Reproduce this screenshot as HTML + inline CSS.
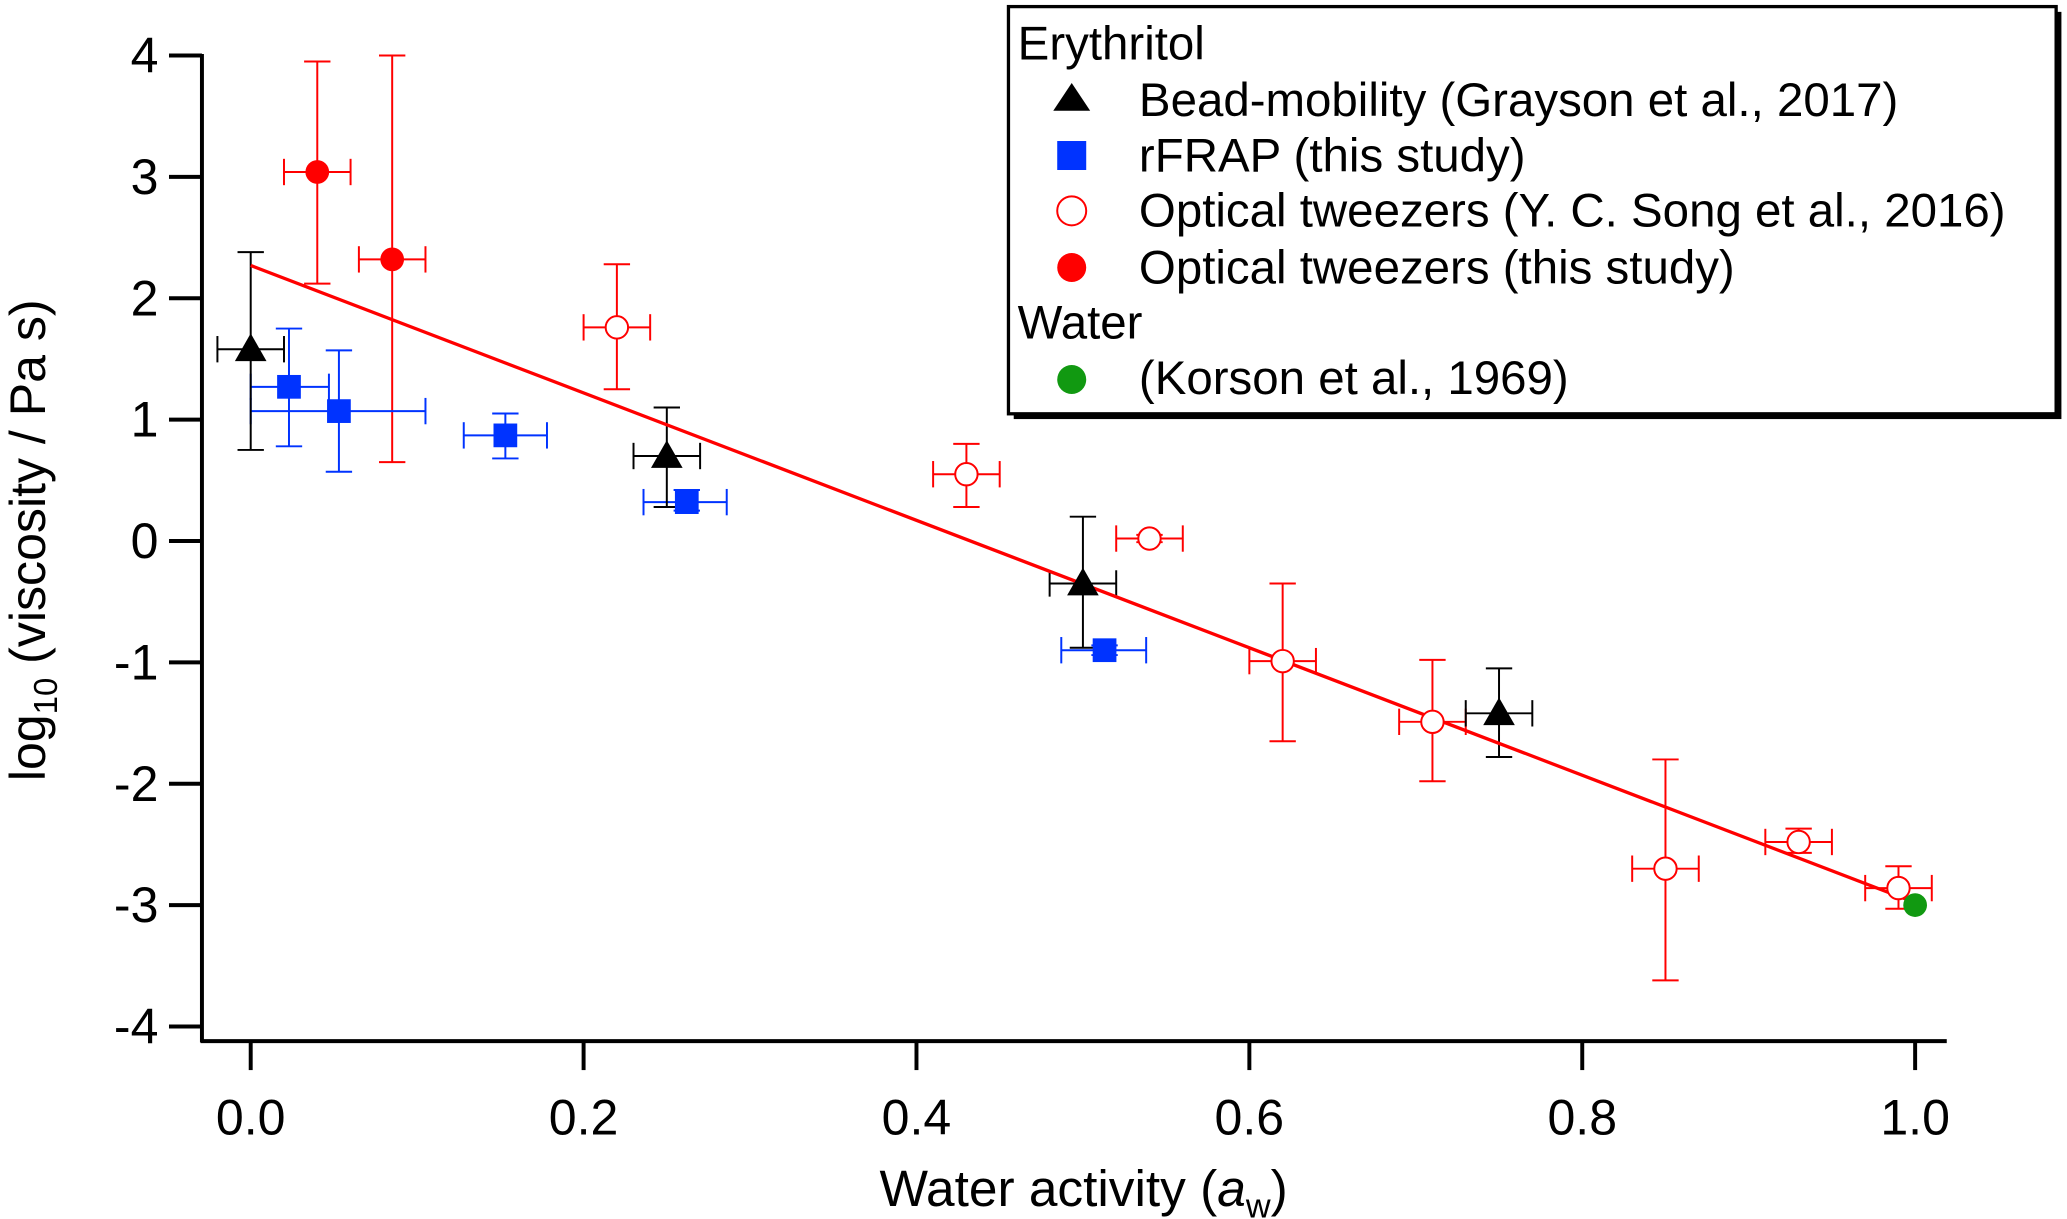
<!DOCTYPE html>
<html><head><meta charset="utf-8"><style>
html,body{margin:0;padding:0;background:#fff;}
svg{display:block;font-family:"Liberation Sans",Arial,sans-serif;}
</style></head><body>
<svg id="chart" width="2067" height="1219" viewBox="0 0 1568 925">
<g id="axes"></g>
<g id="marks"></g>
<text x="34" y="410" font-size="38" text-anchor="middle" transform="rotate(-90 34 410)">log<tspan font-size="25" dy="9">10</tspan><tspan dy="-9"> (viscosity / Pa s)</tspan></text>
<text x="822" y="915" font-size="39" text-anchor="middle">Water activity (<tspan font-style="italic">a</tspan><tspan font-size="26" dy="9">w</tspan><tspan dy="-9">)</tspan></text>
<g>
<rect x="769" y="9" width="795" height="309" fill="#000"/>
<rect x="765" y="5" width="795" height="309" fill="#fff" stroke="#000" stroke-width="2.5"/>
<g font-size="36">
<text x="772" y="45">Erythritol</text>
<polygon points="813,63 799,84 827,84" fill="#000"/>
<text x="864" y="88">Bead-mobility (Grayson et al., 2017)</text>
<rect x="802" y="107" width="22" height="22" fill="#0033ff"/>
<text x="864" y="130">rFRAP (this study)</text>
<circle cx="813" cy="160" r="11" fill="#fff" stroke="#f00" stroke-width="1.5"/>
<text x="864" y="172">Optical tweezers (Y. C. Song et al., 2016)</text>
<circle cx="813" cy="203" r="11" fill="#f00"/>
<text x="864" y="215">Optical tweezers (this study)</text>
<text x="772" y="257">Water</text>
<circle cx="813" cy="288" r="11" fill="#119911"/>
<text x="864" y="299">(Korson et al., 1969)</text>
</g></g>
</svg>
<script>
const xTicks=[0,0.2,0.4,0.6,0.8,1.0];
const xTickLabels=["0.0","0.2","0.4","0.6","0.8","1.0"];
const yTicks=[4,3,2,1,0,-1,-2,-3,-4];
const yTickLabels=["4","3","2","1","0","-1","-2","-3","-4"];
const beadX=[0,0.25,0.5,0.75];
const beadY=[1.58,0.7,-0.35,-1.42];
const beadYHi=[2.38,1.1,0.2,-1.05];
const beadYLo=[0.75,0.28,-0.88,-1.78];
const beadXLo=[-0.02,0.23,0.48,0.73];
const beadXHi=[0.02,0.27,0.52,0.77];
const frapX=[0.023,0.053,0.153,0.262,0.513];
const frapY=[1.27,1.07,0.87,0.32,-0.9];
const frapYHi=[1.75,1.57,1.05,0.42,-0.86];
const frapYLo=[0.78,0.57,0.68,0.25,-0.94];
const frapXLo=[0.0,0.0,0.128,0.236,0.487];
const frapXHi=[0.047,0.105,0.178,0.286,0.538];
const otX=[0.04,0.085];
const otY=[3.04,2.32];
const otYHi=[3.95,4.0];
const otYLo=[2.12,0.65];
const otXLo=[0.02,0.065];
const otXHi=[0.06,0.105];
const songX=[0.22,0.43,0.54,0.62,0.71,0.85,0.93,0.99];
const songY=[1.76,0.55,0.02,-0.99,-1.49,-2.7,-2.48,-2.86];
const songYHi=[2.28,0.8,0.05,-0.35,-0.98,-1.8,-2.37,-2.68];
const songYLo=[1.25,0.28,-0.01,-1.65,-1.98,-3.62,-2.57,-3.03];
const songXLo=[0.2,0.41,0.52,0.6,0.69,0.83,0.91,0.97];
const songXHi=[0.24,0.45,0.56,0.64,0.73,0.87,0.95,1.01];
const waterX=[1.0];
const waterY=[-3.0];
const fitX=[0,1.0];
const fitY=[2.27,-2.98];

const NS="http://www.w3.org/2000/svg";
const X=v=>190+v*1263;
const Y=v=>410.5-v*92.1;
function mk(tag,attrs,parent){const e=document.createElementNS(NS,tag);for(const k in attrs)e.setAttribute(k,attrs[k]);parent.appendChild(e);return e;}
const ax=document.getElementById('axes'), mg=document.getElementById('marks');
let l=mk('line',{x1:153,y1:41,x2:153,y2:791,stroke:'#000','stroke-width':3},ax);


l=mk('line',{x1:152,y1:790,x2:1477,y2:790,stroke:'#000','stroke-width':3},ax);


yTicks.forEach((v,i)=>{
 const t=mk('line',{x1:128,y1:Y(v),x2:153,y2:Y(v),stroke:'#000','stroke-width':3},ax);
 
 
 const s=mk('text',{x:120,y:Y(v)+13,'font-size':38,'text-anchor':'end'},ax);
 s.textContent=yTickLabels[i];
 
 
});
xTicks.forEach((v,i)=>{
 const t=mk('line',{x1:X(v),y1:790,x2:X(v),y2:812,stroke:'#000','stroke-width':3},ax);
 
 
 const s=mk('text',{x:X(v),y:861,'font-size':38,'text-anchor':'middle'},ax);
 s.textContent=xTickLabels[i];
 
 
});
function errs(xs,ys,yh,yl,xl,xh,col,name){
 xs.forEach((x,i)=>{
  const g=mk('g',{stroke:col,'stroke-width':1.5},mg);
  
  
  mk('line',{x1:X(x),y1:Y(yh[i]),x2:X(x),y2:Y(yl[i])},g);
  mk('line',{x1:X(x)-10,y1:Y(yh[i]),x2:X(x)+10,y2:Y(yh[i])},g);
  mk('line',{x1:X(x)-10,y1:Y(yl[i]),x2:X(x)+10,y2:Y(yl[i])},g);
  mk('line',{x1:X(xl[i]),y1:Y(ys[i]),x2:X(xh[i]),y2:Y(ys[i])},g);
  mk('line',{x1:X(xl[i]),y1:Y(ys[i])-10,x2:X(xl[i]),y2:Y(ys[i])+10},g);
  mk('line',{x1:X(xh[i]),y1:Y(ys[i])-10,x2:X(xh[i]),y2:Y(ys[i])+10},g);
 });
}
errs(otX,otY,otYHi,otYLo,otXLo,otXHi,'#f00','ot-this');
errs(songX,songY,songYHi,songYLo,songXLo,songXHi,'#f00','ot-song');
errs(frapX,frapY,frapYHi,frapYLo,frapXLo,frapXHi,'#0033ff','rfrap');
errs(beadX,beadY,beadYHi,beadYLo,beadXLo,beadXHi,'#000','bead');
const fit=mk('line',{x1:X(fitX[0]),y1:Y(fitY[0]),x2:X(fitX[1]),y2:Y(fitY[1]),stroke:'#f00','stroke-width':2.5},mg);


songX.forEach((x,i)=>{const c=mk('circle',{cx:X(x),cy:Y(songY[i]),r:8.5,fill:'#fff',stroke:'#f00','stroke-width':1.5},mg);
 
 });
otX.forEach((x,i)=>{const c=mk('circle',{cx:X(x),cy:Y(otY[i]),r:9,fill:'#f00'},mg);
 
 });
frapX.forEach((x,i)=>{const c=mk('rect',{x:X(x)-9,y:Y(frapY[i])-9,width:18,height:18,fill:'#0033ff'},mg);
 
 });
beadX.forEach((x,i)=>{const px=X(x),py=Y(beadY[i]);const c=mk('polygon',{points:`${px},${py-12} ${px-12},${py+9} ${px+12},${py+9}`,fill:'#000'},mg);
 
 });
waterX.forEach((x,i)=>{const c=mk('circle',{cx:X(x),cy:Y(waterY[i]),r:9,fill:'#119911'},mg);
 
 });
</script>
</body></html>
